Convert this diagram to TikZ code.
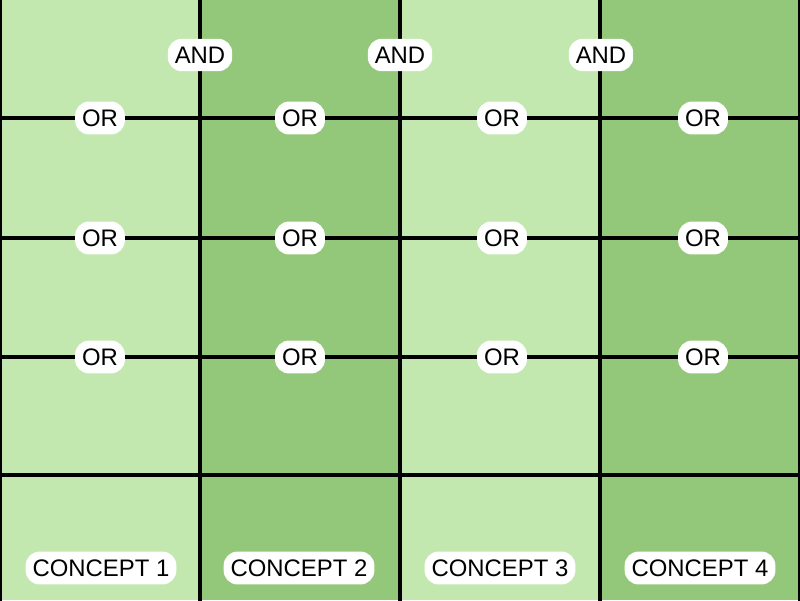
\documentclass[tikz,border=0pt]{standalone}
\usepackage{fontspec}
\setmainfont{Liberation Sans}
\definecolor{lightg}{HTML}{C2E8B0}
\definecolor{darkg}{HTML}{93C87A}
\begin{document}
\begin{tikzpicture}[x=0.02cm,y=-0.02cm,
  gridline/.style={line width=0.08cm,black},
  halo/.style={fill=white,rounded corners=0.28cm,inner xsep=0.14cm,inner ysep=0.16cm,
    font=\fontsize{13.6}{16}\selectfont,text=black}]
\useasboundingbox (0,0) rectangle (800,600);
\begin{scope}
\clip (0,0) rectangle (800,600);
\fill[lightg] (0,0) rectangle (200,600);
\fill[darkg] (200,0) rectangle (400,600);
\fill[lightg] (400,0) rectangle (600,600);
\fill[darkg] (600,0) rectangle (800,600);
\foreach \y in {118,238,357,475} \draw[gridline] (0,\y) -- (800,\y);
\foreach \x in {0,200,400,600,800} \draw[gridline] (\x,-5) -- (\x,605);
\end{scope}
\node[halo] (and1) at (200,55) {AND};
\node[halo] (and2) at (400,55) {AND};
\node[halo] (and3) at (601,55) {AND};
\foreach \x/\n in {100/a,300/b,502/c,703/d}{
  \node[halo] (or1\n) at (\x,118) {OR};
  \node[halo] (or2\n) at (\x,238) {OR};
  \node[halo] (or3\n) at (\x,357) {OR};
}
\node[halo] (c1) at (101,568) {CONCEPT 1};
\node[halo] (c2) at (299,568) {CONCEPT 2};
\node[halo] (c3) at (500,568) {CONCEPT 3};
\node[halo] (c4) at (700,568) {CONCEPT 4};
\end{tikzpicture}
\end{document}
